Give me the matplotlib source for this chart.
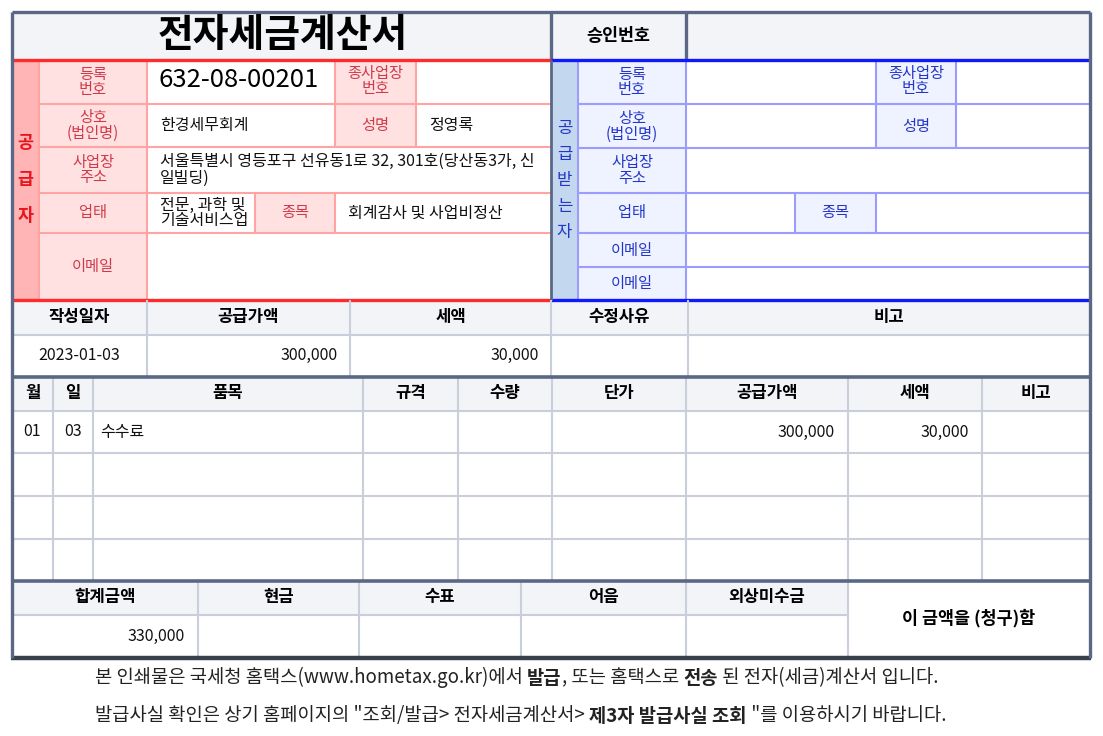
import matplotlib
matplotlib.use("Agg")
import matplotlib.pyplot as plt
from matplotlib.patches import Rectangle

plt.rcParams['font.family'] = ['Noto Sans CJK KR', 'DejaVu Sans']

# ---------------- data ----------------
title = '전자세금계산서'
approval_label = '승인번호'
supplier_side = '공급자'
recipient_side = '공급받는자'

supplier_labels = ['등록\n번호', '상호\n(법인명)', '사업장\n주소', '업태', '이메일']
supplier_labels2 = ['종사업장\n번호', '성명', '종목']
supplier_reg_no = '632-08-00201'
supplier_name = '한경세무회계'
supplier_ceo = '정영록'
supplier_addr = '서울특별시 영등포구 선유동1로 32, 301호(당산동3가, 신\n일빌딩)'
supplier_biz_type = '전문, 과학 및\n기술서비스업'
supplier_biz_item = '회계감사 및 사업비정산'

recipient_labels = ['등록\n번호', '상호\n(법인명)', '사업장\n주소', '업태', '이메일', '이메일']
recipient_labels2 = ['종사업장\n번호', '성명', '종목']

summary_headers = ['작성일자', '공급가액', '세액', '수정사유', '비고']
issue_date = '2023-01-03'
summary_supply = 300000
summary_tax = 30000

item_headers = ['월', '일', '품목', '규격', '수량', '단가', '공급가액', '세액', '비고']
item_months = ['01']
item_days = ['03']
item_names = ['수수료']
item_supply = [300000]
item_tax = [30000]

total_headers = ['합계금액', '현금', '수표', '어음', '외상미수금']
total_amount = 330000
claim_text = '이 금액을 (청구)함'

footer_line1 = [('본 인쇄물은 국세청 홈택스(www.hometax.go.kr)에서 ', False), ('발급', True),
                (', 또는 홈택스로 ', False), ('전송', True), (' 된 전자(세금)계산서 입니다.', False)]
footer_line2 = [('발급사실 확인은 상기 홈페이지의 "조회/발급> 전자세금계산서> ', False),
                ('제3자 발급사실 조회', True), (' "를 이용하시기 바랍니다.', False)]

# ---------------- style ----------------
HDR = '#f2f4f8'
SLATE = '#5a6886'
GRID = '#c9cedb'
S_STRIP, S_LAB, S_LINE, S_TXT, S_RED = '#ffb5b5', '#ffe1e1', '#ffa3a3', '#cf3a4a', '#ff2b2b'
R_STRIP, R_LAB, R_LINE, R_TXT, R_BLUE = '#c3d8ef', '#eff2ff', '#9c9cff', '#2436c8', '#1018ff'
FS_HDR, FS_VAL, FS_LAB = 12, 11.5, 11

W, H = 1103, 736
fig = plt.figure(figsize=(W / 100, H / 100), dpi=100)
ax = fig.add_axes([0, 0, 1, 1])
ax.set_xlim(0, W)
ax.set_ylim(H, 0)
ax.axis('off')


def fill(x0, y0, x1, y1, c):
    ax.add_patch(Rectangle((x0, y0), x1 - x0, y1 - y0, facecolor=c, edgecolor='none', zorder=1))


def hl(y, x0, x1, c, lw):
    ax.plot([x0, x1], [y, y], color=c, lw=lw, solid_capstyle='butt', zorder=3)


def vl(x, y0, y1, c, lw):
    ax.plot([x, x], [y0, y1], color=c, lw=lw, solid_capstyle='butt', zorder=3)


def txt(x, y, s, size=FS_VAL, color='#111111', ha='center', weight='normal', ls=0.92, **kw):
    return ax.text(x, y, s, fontsize=size, color=color, ha=ha, va='center', weight=weight,
                   linespacing=ls, zorder=5, **kw)


L, R, T, B = 12, 1090, 12, 658

# ---------------- title row ----------------
fill(L, T, R, 60, HDR)
txt((L + 551) / 2 + 1, 35, title, size=28, weight='bold', color='#000000')
txt((551 + 686) / 2, 36, approval_label, size=12.5, weight='bold', color='#000000')
vl(551, T, 60, SLATE, 2.4)
vl(686, T, 60, SLATE, 2.4)

# ---------------- supplier ----------------
s_rows = [60, 104, 147, 193, 233, 300]
fill(12, 60, 39, 300, S_STRIP)
fill(39, 60, 147, 300, S_LAB)
fill(335, 60, 416, 147, S_LAB)
fill(255, 193, 335, 233, S_LAB)
for y in s_rows[1:-1]:
    hl(y, 39, 551, S_LINE, 1.5)
vl(39, 60, 300, S_LINE, 1.5)
vl(147, 60, 300, S_LINE, 1.5)
vl(335, 60, 147, S_LINE, 1.5)
vl(416, 60, 147, S_LINE, 1.5)
vl(255, 193, 233, S_LINE, 1.5)
vl(335, 193, 233, S_LINE, 1.5)
for i, ch in enumerate(supplier_side):
    txt(25.5, 143 + i * 36.5, ch, size=12.5, color='#e8141e', weight='bold')
for i, lab in enumerate(supplier_labels):
    txt(93, (s_rows[i] + s_rows[i + 1]) / 2, lab, size=FS_LAB, color=S_TXT)
txt(375.5, 81, supplier_labels2[0], size=FS_LAB, color=S_TXT)
txt(375.5, 125.5, supplier_labels2[1], size=FS_LAB, color=S_TXT)
txt(295, 213, supplier_labels2[2], size=FS_LAB, color=S_TXT)
txt(159, 80, supplier_reg_no, size=18.5, ha='left', color='#000000')
txt(160, 125.5, supplier_name, ha='left')
txt(429, 125.5, supplier_ceo, ha='left')
addr = txt(160, 170, supplier_addr, ha='left', ls=0.98)
clip = Rectangle((147, 147), 404, 46, transform=ax.transData)
addr.set_clip_path(clip)
txt(160, 213, supplier_biz_type, ha='left', ls=0.92)
txt(348, 213, supplier_biz_item, ha='left')

# ---------------- recipient ----------------
r_rows = [60, 104, 148, 193, 233, 267, 300]
fill(551, 60, 578, 300, R_STRIP)
fill(578, 60, 686, 300, R_LAB)
fill(876, 60, 956, 148, R_LAB)
fill(795, 193, 876, 233, R_LAB)
for y in r_rows[1:-1]:
    hl(y, 578, 1090, R_LINE, 1.5)
vl(578, 60, 300, R_LINE, 1.5)
vl(686, 60, 300, R_LINE, 1.5)
vl(876, 60, 148, R_LINE, 1.5)
vl(956, 60, 148, R_LINE, 1.5)
vl(795, 193, 233, R_LINE, 1.5)
vl(876, 193, 233, R_LINE, 1.5)
for i, ch in enumerate(recipient_side):
    txt(564.5, 128 + i * 26, ch, size=12, color=R_TXT)
for i, lab in enumerate(recipient_labels):
    txt(632, (r_rows[i] + r_rows[i + 1]) / 2, lab, size=FS_LAB, color=R_TXT)
txt(916, 81, recipient_labels2[0], size=FS_LAB, color=R_TXT)
txt(916, 126, recipient_labels2[1], size=FS_LAB, color=R_TXT)
txt(835.5, 213, recipient_labels2[2], size=FS_LAB, color=R_TXT)

# section boundary lines
hl(60, 12, 551, S_RED, 2.4)
hl(300, 12, 551, S_RED, 2.4)
hl(60, 551, 1090, R_BLUE, 2.4)
hl(300, 551, 1090, R_BLUE, 2.4)
vl(551, 60, 300, SLATE, 2.0)

# ---------------- summary row ----------------
sum_cols = [12, 147, 350, 551, 688, 1090]
fill(L, 300, R, 335, HDR)
hl(335, L, R, GRID, 1.5)
for x in sum_cols[1:-1]:
    vl(x, 300, 377, GRID, 1.5)
for i, h in enumerate(summary_headers):
    txt((sum_cols[i] + sum_cols[i + 1]) / 2, 317, h, size=FS_HDR, weight='bold', color='#000000')
txt((12 + 147) / 2, 355, issue_date)
txt(338, 355, f'{summary_supply:,}', ha='right')
txt(539, 355, f'{summary_tax:,}', ha='right')

# ---------------- items ----------------
it_cols = [12, 53, 93, 363, 458, 552, 686, 848, 982, 1090]
it_rows = [377, 411, 453, 496, 539, 581]
fill(L, 377, R, 411, HDR)
for y in it_rows[1:-1]:
    hl(y, L, R, GRID, 1.5)
for x in it_cols[1:-1]:
    vl(x, 377, 581, GRID, 1.5)
for i, h in enumerate(item_headers):
    txt((it_cols[i] + it_cols[i + 1]) / 2, 393, h, size=FS_HDR, weight='bold', color='#000000')
for k in range(len(item_names)):
    yc = (it_rows[k + 1] + it_rows[k + 2]) / 2
    txt((it_cols[0] + it_cols[1]) / 2, yc, item_months[k])
    txt((it_cols[1] + it_cols[2]) / 2, yc, item_days[k])
    txt(100, yc, item_names[k], ha='left')
    txt(835, yc, f'{item_supply[k]:,}', ha='right')
    txt(969, yc, f'{item_tax[k]:,}', ha='right')

# ---------------- totals ----------------
tot_cols = [12, 198, 359, 521, 686, 848]
fill(L, 581, 848, 615, HDR)
hl(615, L, 848, GRID, 1.5)
for x in tot_cols[1:]:
    vl(x, 581, 658, GRID, 1.5)
for i, h in enumerate(total_headers):
    txt((tot_cols[i] + tot_cols[i + 1]) / 2, 597, h, size=FS_HDR, weight='bold', color='#000000')
txt(185, 636, f'{total_amount:,}', ha='right')
txt((848 + 1090) / 2, 618, claim_text, size=12.5, weight='bold', color='#000000')

# ---------------- heavy borders ----------------
hl(377, L, R, SLATE, 2.6)
hl(581, L, R, SLATE, 2.6)
hl(B, L - 1, R + 1, '#3a3f4c', 3.2)
hl(T, L, R, SLATE, 2.4)
vl(L, T, B, SLATE, 2.4)
vl(R, T, B, SLATE, 2.4)


# ---------------- footer ----------------
def rich_line(x, y, parts, size=13.5):
    prev = None
    for s, bold in parts:
        w = 'bold' if bold else 'normal'
        if prev is None:
            prev = ax.text(x, y, s, fontsize=size, ha='left', va='bottom', weight=w,
                           color='#222222', zorder=5)
        else:
            prev = ax.annotate(s, xy=(1, 0), xycoords=prev, ha='left', va='bottom',
                               fontsize=size, weight=w, color='#222222', zorder=5)


rich_line(95, 688, footer_line1)
rich_line(95, 726, footer_line2)

fig.savefig('out.png', dpi=100)
